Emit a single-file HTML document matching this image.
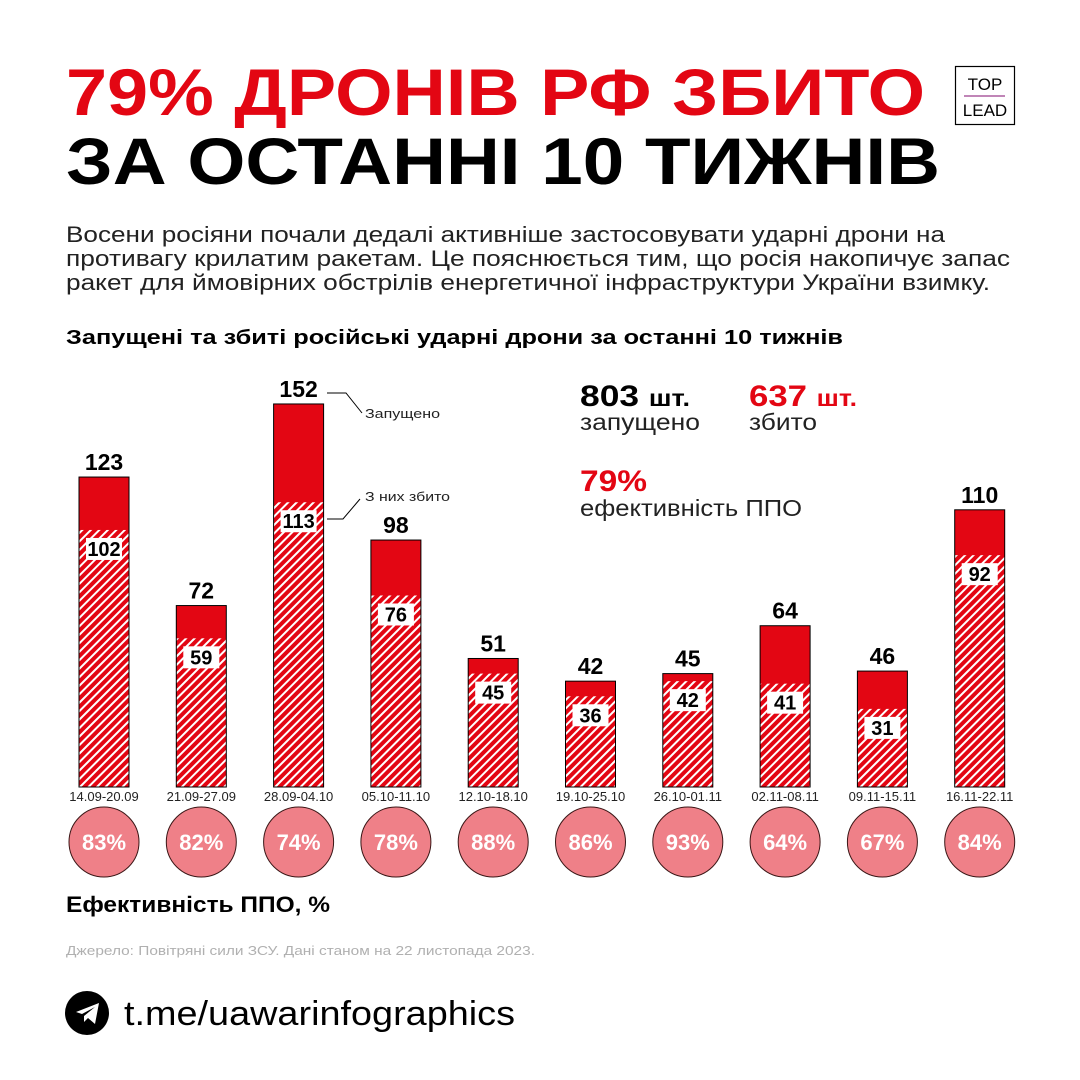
<!DOCTYPE html>
<html><head><meta charset="utf-8"><style>
html,body{margin:0;padding:0;background:#fff}
svg{display:block;font-family:"Liberation Sans",sans-serif}
</style></head><body>
<svg id="chart" width="1080" height="1080" viewBox="0 0 1080 1080">
<defs>
<pattern id="hatch" patternUnits="userSpaceOnUse" width="6" height="6" patternTransform="rotate(45)">
<rect width="6" height="6" fill="#e30613"/>
<rect width="2" height="6" fill="#fff"/>
</pattern>
</defs>
<text x="66" y="115" font-size="66" font-weight="bold" fill="#e30613" textLength="859" lengthAdjust="spacingAndGlyphs">79% ДРОНІВ РФ ЗБИТО</text>
<text x="66" y="184" font-size="66" font-weight="bold" fill="#000" textLength="874" lengthAdjust="spacingAndGlyphs">ЗА ОСТАННІ 10 ТИЖНІВ</text>
<g>
<rect x="955.5" y="66.5" width="59" height="58" fill="#fff" stroke="#000" stroke-width="1.2"/>
<text x="985" y="90" font-size="17" text-anchor="middle">TOP</text>
<line x1="964" y1="96" x2="1005" y2="96" stroke="#9b3c8c" stroke-width="1.2"/>
<text x="985" y="116" font-size="17" text-anchor="middle">LEAD</text>
</g>
<g font-size="22" fill="#222">
<text x="66" y="242" textLength="879" lengthAdjust="spacingAndGlyphs">Восени росіяни почали дедалі активніше застосовувати ударні дрони на</text>
<text x="66" y="266" textLength="944" lengthAdjust="spacingAndGlyphs">противагу крилатим ракетам. Це пояснюється тим, що росія накопичує запас</text>
<text x="66" y="290" textLength="924" lengthAdjust="spacingAndGlyphs">ракет для ймовірних обстрілів енергетичної інфраструктури України взимку.</text>
</g>
<text x="66" y="344" font-size="20" font-weight="bold" textLength="777" lengthAdjust="spacingAndGlyphs">Запущені та збиті російські ударні дрони за останні 10 тижнів</text>
<g>
<text x="580" y="406" font-size="30" font-weight="bold" textLength="110" lengthAdjust="spacingAndGlyphs">803 <tspan font-size="23">шт.</tspan></text>
<text x="580" y="430" font-size="23" fill="#222" textLength="120" lengthAdjust="spacingAndGlyphs">запущено</text>
<text x="749" y="406" font-size="30" font-weight="bold" fill="#e30613" textLength="108" lengthAdjust="spacingAndGlyphs">637 <tspan font-size="23">шт.</tspan></text>
<text x="749" y="430" font-size="23" fill="#222" textLength="68" lengthAdjust="spacingAndGlyphs">збито</text>
<text x="580" y="491" font-size="30" font-weight="bold" fill="#e30613" textLength="67" lengthAdjust="spacingAndGlyphs">79%</text>
<text x="580" y="516" font-size="23" fill="#222" textLength="222" lengthAdjust="spacingAndGlyphs">ефективність ППО</text>
</g>
<g id="bars"></g>
<g font-size="13" fill="#222">
<polyline points="327,393 346,393 362,413" fill="none" stroke="#000" stroke-width="1"/>
<text x="365" y="418" textLength="75" lengthAdjust="spacingAndGlyphs">Запущено</text>
<polyline points="327,519 343,519 360,499" fill="none" stroke="#000" stroke-width="1"/>
<text x="365" y="501" textLength="85" lengthAdjust="spacingAndGlyphs">З них збито</text>
</g>
<text x="66" y="912" font-size="22" font-weight="bold" textLength="264" lengthAdjust="spacingAndGlyphs">Ефективність ППО, %</text>
<text x="66" y="955" font-size="12.5" fill="#b0b0b0" textLength="469" lengthAdjust="spacingAndGlyphs">Джерело: Повітряні сили ЗСУ. Дані станом на 22 листопада 2023.</text>
<g>
<circle cx="87" cy="1013" r="22" fill="#000"/>
<path d="M76 1012 L99 1003 L95 1024 L88 1018 L84 1022 L84 1016 L95 1007 L82 1014 Z" fill="#fff"/>
<text x="124" y="1025" font-size="34" fill="#000" textLength="391" lengthAdjust="spacingAndGlyphs">t.me/uawarinfographics</text>
</g>
</svg>
<script>
const categories=["14.09-20.09","21.09-27.09","28.09-04.10","05.10-11.10","12.10-18.10","19.10-25.10","26.10-01.11","02.11-08.11","09.11-15.11","16.11-22.11"];
const launched=[123,72,152,98,51,42,45,64,46,110];
const downed=[102,59,113,76,45,36,42,41,31,92];
const efficiency=[83,82,74,78,88,86,93,64,67,84];
const NS="http://www.w3.org/2000/svg";
const base=787, scaleY=2.52, x0=104, step=97.3, bw=50;
const yv=v=>base-v*scaleY;
const xc=i=>x0+i*step;
const g=document.getElementById('bars');
function mk(tag,attrs,parent){const e=document.createElementNS(NS,tag);for(const k in attrs)e.setAttribute(k,attrs[k]);(parent||g).appendChild(e);return e;}
categories.forEach((c,i)=>{
  const cx=xc(i);
  const top=mk('rect',{x:cx-bw/2,y:yv(launched[i]),width:bw,height:launched[i]*scaleY,fill:'#e30613'});
  
  
  const bot=mk('rect',{x:cx-bw/2,y:yv(downed[i]),width:bw,height:downed[i]*scaleY,fill:'url(#hatch)'});
  
  
  const outline=mk('rect',{x:cx-bw/2,y:yv(launched[i]),width:bw,height:launched[i]*scaleY,fill:'none',stroke:'#000','stroke-width':1});
  
  
  const lt=mk('text',{x:cx,y:yv(launched[i])-7,'font-size':23,'font-weight':'bold','text-anchor':'middle'});
  lt.textContent=launched[i];
  
  
  const by=yv(downed[i])+8;
  const box=mk('rect',{x:cx-18,y:by,width:36,height:22,fill:'#fff'});
  
  
  const dt=mk('text',{x:cx,y:by+18,'font-size':20,'font-weight':'bold','text-anchor':'middle'});
  dt.textContent=downed[i];
  
  
  const ct=mk('text',{x:cx,y:801,'font-size':13,'text-anchor':'middle',fill:'#222'});
  ct.textContent=c;
  
  
  const circ=mk('circle',{cx:cx,cy:842,r:35,fill:'#ef8088',stroke:'#3a1616','stroke-width':1});
  
  
  const et=mk('text',{x:cx,y:850,'font-size':22,'font-weight':'bold','text-anchor':'middle',fill:'#fff'});
  et.textContent=efficiency[i]+'%';
  
  
});
</script>
</body></html>
